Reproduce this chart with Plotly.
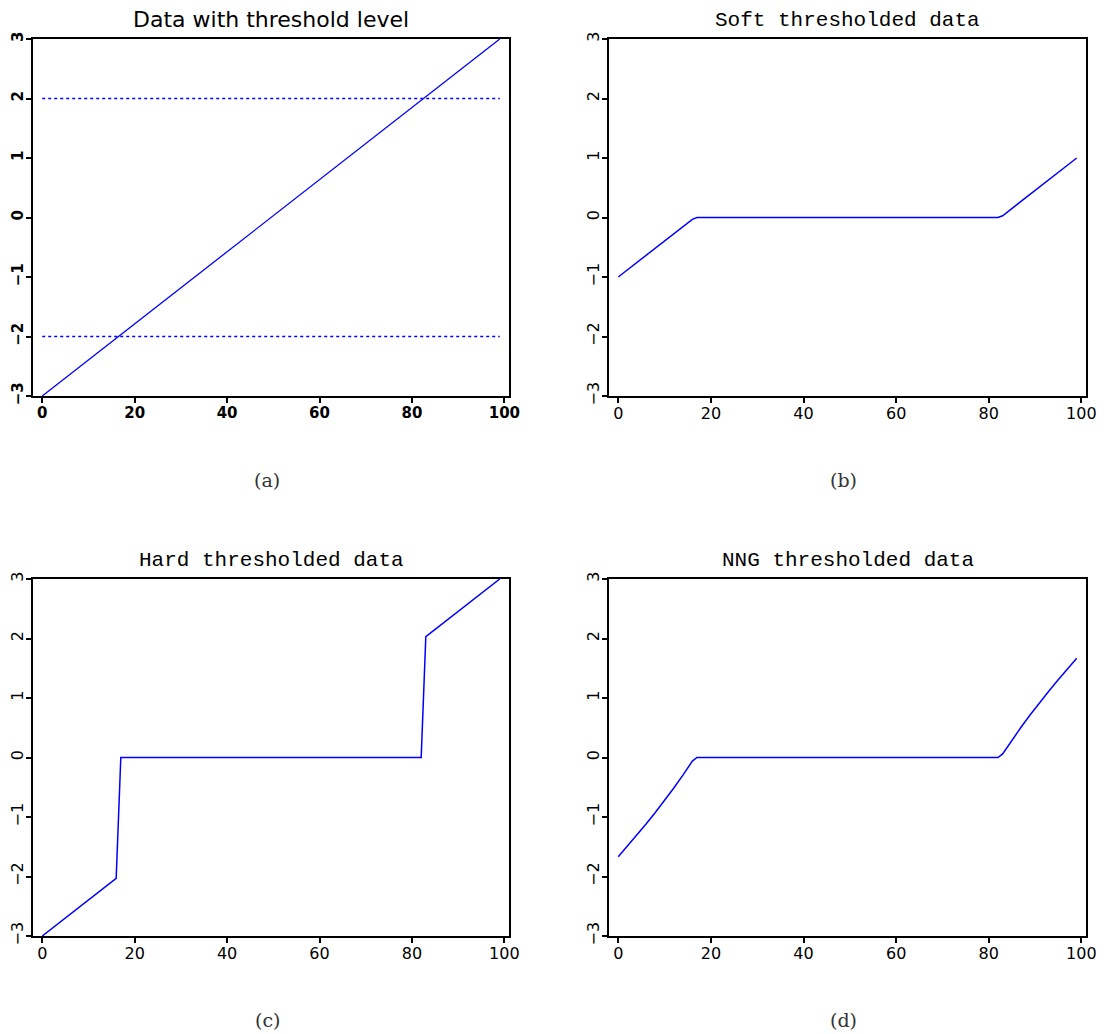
import plotly.graph_objects as go

# ---- data ----
x_a = [0, 99]
y_a = [-3.0, 3.0]
thr_x = [0, 99]
thr_hi = [2.0, 2.0]
thr_lo = [-2.0, -2.0]

x_soft = [0, 16, 17, 82, 83, 99]
y_soft = [-1.0, -0.03, 0.0, 0.0, 0.03, 1.0]

x_hard = [0, 16, 17, 82, 83, 99]
y_hard = [-3.0, -2.03, 0.0, 0.0, 2.03, 3.0]

x_nng = [0, 2, 4, 6, 8, 10, 12, 14, 15, 16, 17,
         82, 83, 84, 85, 87, 89, 91, 93, 95, 97, 99]
y_nng = [-1.667, -1.489, -1.307, -1.119, -0.925, -0.723, -0.513, -0.292, -0.178, -0.06, 0.0,
         0.0, 0.06, 0.178, 0.292, 0.513, 0.723, 0.925, 1.119, 1.307, 1.489, 1.667]

titles = ["Data with threshold level", "Soft thresholded data",
          "Hard thresholded data", "NNG thresholded data"]
captions = ["(a)", "(b)", "(c)", "(d)"]
x_ticks = [0, 20, 40, 60, 80, 100]
y_ticks = [-3, -2, -1, 0, 1, 2, 3]

W, H = 1104, 1034
fig = go.Figure()

# pixel boxes (left, right, top, bottom)
boxes = [(33, 509, 39, 396), (609, 1086, 39, 396),
         (33, 509, 579, 936), (609, 1086, 579, 936)]

def px(v):
    return v / W

def py(v):
    return 1 - v / H

blue = "#0000ff"
for k, (l, r, t, b) in enumerate(boxes):
    n = "" if k == 0 else str(k + 1)
    bold = (k == 0)
    lw = 2.2 if bold else 1.5
    tf = dict(family="DejaVu Sans", size=15 if bold else 16, color="black",
              weight="bold" if bold else "normal")
    fig.update_layout(**{
        "xaxis" + n: dict(domain=[px(l), px(r)], range=[-2, 101.0],
                          anchor="y" + n, tickvals=x_ticks, ticks="outside",
                          ticklen=5, tickwidth=lw, tickcolor="black",
                          showline=True, linecolor="black", linewidth=lw,
                          mirror=True, showgrid=False, zeroline=False,
                          automargin=False, tickfont=tf, ticklabelstandoff=-3),
        "yaxis" + n: dict(domain=[py(b), py(t)], range=[-3, 3],
                          anchor="x" + n, tickvals=y_ticks, ticks="outside",
                          ticklen=5, tickwidth=lw, tickcolor="black",
                          showline=True, linecolor="black", linewidth=lw,
                          mirror=True, showgrid=False, zeroline=False,
                          automargin=False, tickangle=-90, tickfont=tf,
                          ticklabelstandoff=-3),
    })
    fig.add_annotation(text=titles[k], x=(px(l) + px(r)) / 2, y=py(t - 5),
                       xref="paper", yref="paper", showarrow=False,
                       yanchor="bottom", xanchor="center",
                       font=dict(family="DejaVu Sans" if k == 0 else "Liberation Mono",
                                 size=21 if k else 22, color="black"))
    fig.add_annotation(text=captions[k], x=(px(l) + px(r)) / 2 - 4 / W, y=py(b + 84),
                       xref="paper", yref="paper", showarrow=False,
                       yanchor="middle", xanchor="center",
                       font=dict(family="DejaVu Serif", size=19, color="#333333"))

fig.add_trace(go.Scatter(x=thr_x, y=thr_hi, mode="lines", xaxis="x", yaxis="y",
                         line=dict(color=blue, width=1.3, dash="3px,3px")))
fig.add_trace(go.Scatter(x=thr_x, y=thr_lo, mode="lines", xaxis="x", yaxis="y",
                         line=dict(color=blue, width=1.3, dash="3px,3px")))
fig.add_trace(go.Scatter(x=x_a, y=y_a, mode="lines", xaxis="x", yaxis="y",
                         line=dict(color=blue, width=1.3)))
fig.add_trace(go.Scatter(x=x_soft, y=y_soft, mode="lines", xaxis="x2", yaxis="y2",
                         line=dict(color=blue, width=1.5)))
fig.add_trace(go.Scatter(x=x_hard, y=y_hard, mode="lines", xaxis="x3", yaxis="y3",
                         line=dict(color=blue, width=1.5)))
fig.add_trace(go.Scatter(x=x_nng, y=y_nng, mode="lines", xaxis="x4", yaxis="y4",
                         line=dict(color=blue, width=1.5)))

fig.update_layout(width=W, height=H, margin=dict(l=0, r=0, t=0, b=0),
                  paper_bgcolor="white", plot_bgcolor="white", showlegend=False)
post = (
    "var s=document.createElement('style');"
    "s.textContent='html,body{margin:0;padding:0;overflow:hidden;}"
    ".plotly-graph-div{position:absolute;left:0;top:0;}';"
    "document.head.appendChild(s);"
)
fig.write_html("out.html", config={"displayModeBar": False}, post_script=post)
